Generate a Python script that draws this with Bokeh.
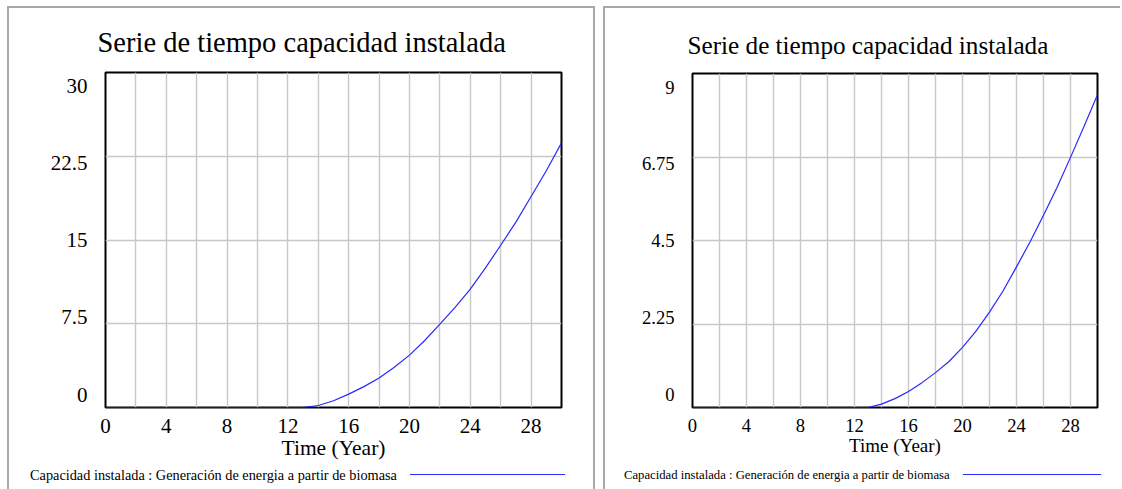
from bokeh.plotting import figure
from bokeh.layouts import row, column
from bokeh.models import (Range1d, LinearAxis, FixedTicker, Div,
                          Spacer, Title, NumeralTickFormatter)
from bokeh.embed import file_html
from bokeh.resources import INLINE

# ---------------- data ----------------
years = list(range(0, 31))
cap_left = [0] * 14 + [0.18, 0.6, 1.2, 1.87, 2.65, 3.61, 4.69, 6.0, 7.46, 8.96,
                       10.6, 12.5, 14.53, 16.6, 18.9, 21.2, 23.7]
cap_right = [0] * 14 + [0.09, 0.24, 0.43, 0.67, 0.94, 1.24, 1.62, 2.06, 2.57, 3.14,
                        3.79, 4.46, 5.18, 5.93, 6.74, 7.57, 8.43]
yticks_left = [0, 7.5, 15, 22.5, 30]
yticks_right = [0, 2.25, 4.5, 6.75, 9]
xticks = [0, 4, 8, 12, 16, 20, 24, 28]
xgrid_ticks = list(range(0, 31, 2))
title_text = "Serie de tiempo capacidad instalada"
xlabel_text = "Time (Year)"
legend_text = "Capacidad instalada : Generación de energia a partir de biomasa"

FONT = "Liberation Serif"
BORDER = "2px solid #a8a8a8"
LINE_COLOR = "#2828ff"
CHART_H = 458
LEG_H = 25


def make_panel(vals, ymax, yticks, width, mb, scale, title_offset, leg_txt_x, leg_line_x,
               leg_line_w, right_border=True):
    frame_h = CHART_H - mb[0] - mb[2]
    p = figure(width=width, height=CHART_H, x_range=Range1d(0, 30), y_range=Range1d(0, ymax),
               output_backend="svg", toolbar_location=None,
               min_border_top=mb[0], min_border_right=mb[1], min_border_bottom=mb[2],
               min_border_left=mb[3])
    styles = {"border-top": BORDER, "border-left": BORDER}
    if right_border:
        styles["border-right"] = BORDER
    p.styles = styles
    p.background_fill_color = "white"
    p.border_fill_color = "white"
    p.outline_line_color = "black"
    p.outline_line_width = 2

    # title
    t = Title(text=title_text, align="left", offset=title_offset,
              text_font=FONT, text_font_size=f"{28.5*scale:.1f}px",
              text_font_style="normal", text_color="black", standoff=29)
    p.add_layout(t, "above")

    # grids
    p.xgrid.ticker = FixedTicker(ticks=xgrid_ticks)
    p.ygrid.ticker = FixedTicker(ticks=yticks)
    for g in (p.xgrid, p.ygrid):
        g.grid_line_color = "#c8c8c8"
        g.grid_line_width = 1.4

    # x axis
    xa = p.xaxis[0]
    xa.ticker = FixedTicker(ticks=xticks)
    xa.axis_line_color = None
    xa.major_tick_line_color = None
    xa.minor_tick_line_color = None
    xa.major_tick_out = 0
    xa.major_tick_in = 0
    xa.major_label_standoff = 11
    xa.major_label_text_font = FONT
    xa.major_label_text_font_size = f"{21*scale:.1f}px"
    xa.major_label_text_color = "black"
    xa.axis_label = xlabel_text
    xa.axis_label_text_font = FONT
    xa.axis_label_text_font_size = f"{21.5*scale:.1f}px"
    xa.axis_label_text_font_style = "normal"
    xa.axis_label_text_color = "black"
    xa.axis_label_standoff = 0

    # y labels: an extra range so labels sit inside the frame like the original
    p.yaxis[0].visible = False
    upp = ymax / (frame_h - 26.5)
    p.extra_y_ranges = {"lab": Range1d(-13 * upp, ymax + 13.5 * upp)}
    ya = LinearAxis(y_range_name="lab", ticker=FixedTicker(ticks=yticks),
                    formatter=NumeralTickFormatter(format="0.[00]"))
    ya.axis_line_color = None
    ya.major_tick_line_color = None
    ya.minor_tick_line_color = None
    ya.major_tick_out = 0
    ya.major_tick_in = 0
    ya.major_label_standoff = 18
    ya.major_label_text_font = FONT
    ya.major_label_text_font_size = f"{21*scale:.1f}px"
    ya.major_label_text_color = "black"
    p.add_layout(ya, "left")

    p.line(years, vals, line_color=LINE_COLOR, line_width=1.2)

    # legend strip: text followed by the key line
    fs = 14.3 * scale
    html = (
        f'<div style="position:relative;width:{width}px;height:{LEG_H}px;margin:0;padding:0;">'
        f'<span style="position:absolute;left:{leg_txt_x}px;top:{10.5 - 8}px;'
        f'line-height:16px;font-family:\'{FONT}\';font-size:{fs:.1f}px;color:black;'
        f'white-space:nowrap;">{legend_text}</span>'
        f'<span style="position:absolute;left:{leg_line_x}px;top:10px;width:{leg_line_w}px;'
        f'height:1.4px;background-color:{LINE_COLOR};"></span>'
        f'</div>'
    )
    lstyles = {"border-left": BORDER, "background-color": "white"}
    if right_border:
        lstyles["border-right"] = BORDER
    d = Div(text=html, width=width, height=LEG_H, styles=lstyles, margin=0)
    return column(p, d)


# left: content starts at x=9; frame at 105; text at 30; key line 410..565
c1 = make_panel(cap_left, 30, yticks_left, 588, (64, 36, 59, 96), 1.0, -8,
                30 - 9, 410 - 9, 155)
# right: content starts at x=605; frame at 692; text at 624; key line 963..1101
c2 = make_panel(cap_right, 9, yticks_right, 517, (65, 25, 59, 87), 0.885, -5,
                624 - 605, 963 - 605, 138, right_border=False)

layout = column(Spacer(height=6), row(Spacer(width=7), c1, Spacer(width=8), c2))
layout.styles = {"background-color": "white"}

open("out.html", "w").write(file_html(layout, INLINE))
